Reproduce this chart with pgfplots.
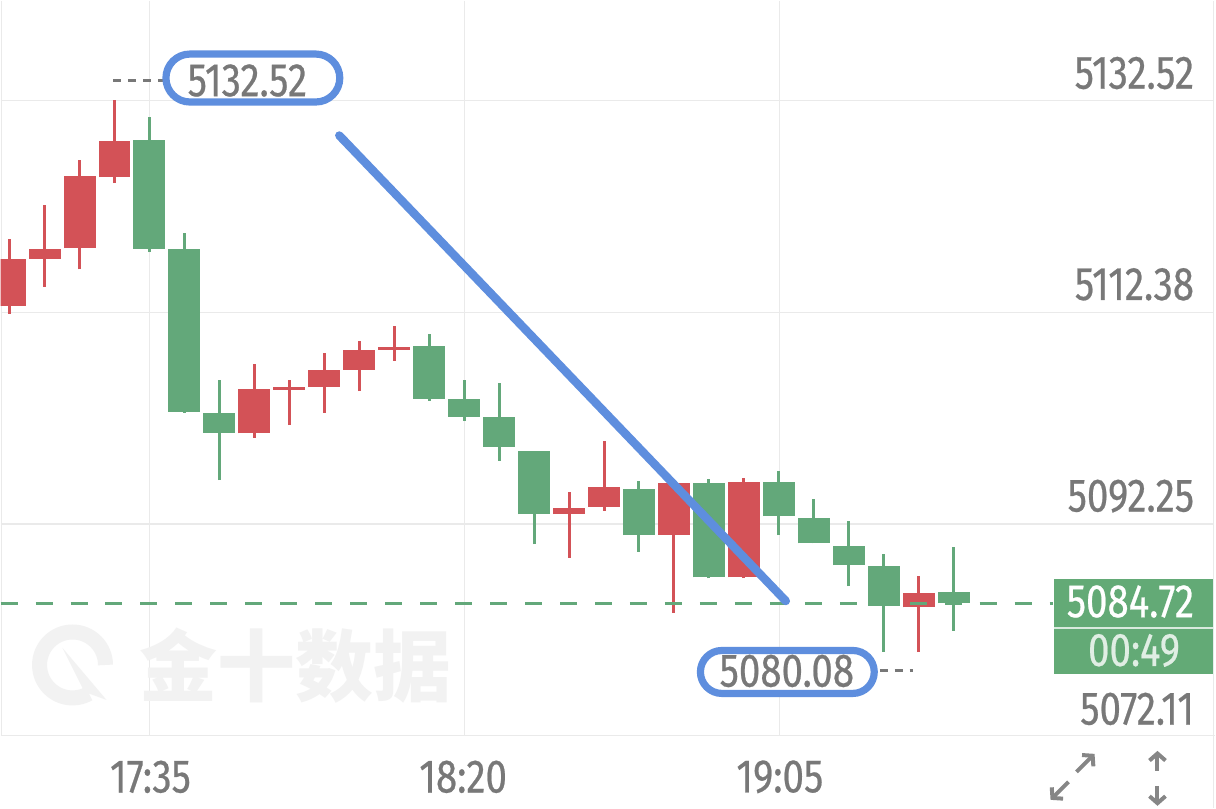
\documentclass[border=0pt]{standalone}
\usepackage{fontspec}
\setmainfont{Fira Sans}[FakeStretch=0.82, FakeBold=0.5]
\newfontfamily\cjk{Noto Sans CJK SC}
\usepackage{pgfplots}
\pgfplotsset{compat=1.18}
\usepackage{pgfplotstable}
\usetikzlibrary{arrows.meta}

\definecolor{cred}{RGB}{211,82,87}
\definecolor{cgreen}{RGB}{99,168,122}
\definecolor{cgrid}{RGB}{234,234,234}
\definecolor{ctext}{RGB}{120,120,120}
\definecolor{cblue}{RGB}{94,142,222}
\definecolor{cbox}{RGB}{99,170,118}
\definecolor{cwm}{RGB}{242,242,242}

% candles: index, open, high, low, close (5 min bars from 17:15)
\pgfplotstableread{
i  o       h       l       c
0  5112.98 5119.38 5112.26 5117.42
1  5117.48 5122.55 5114.79 5118.40
2  5118.49 5126.82 5116.47 5125.30
3  5125.23 5132.52 5124.66 5128.63
7  5100.86 5107.44 5100.44 5105.07
8  5105.04 5105.99 5101.65 5105.29
9  5105.29 5108.52 5102.85 5106.94
10 5106.94 5109.63 5104.88 5108.84
11 5108.84 5111.05 5107.76 5109.12
16 5093.19 5095.26 5089.04 5093.74
17 5093.89 5100.19 5093.51 5095.73
19 5091.23 5096.17 5083.82 5096.17
21 5087.18 5096.61 5087.10 5096.21
26 5084.33 5087.30 5080.08 5085.69
}\up
\pgfplotstableread{
i  o       h       l       c
4  5128.79 5130.93 5118.11 5118.40
5  5118.37 5119.95 5102.82 5102.91
6  5102.85 5105.92 5096.42 5100.95
12 5109.15 5110.36 5103.96 5104.18
13 5104.18 5105.92 5102.06 5102.44
14 5102.44 5105.67 5098.26 5099.59
15 5099.18 5099.18 5090.34 5093.19
18 5095.60 5096.33 5089.61 5091.20
20 5096.11 5096.49 5087.09 5087.18
22 5096.26 5097.28 5091.20 5093.00
23 5092.84 5094.59 5090.41 5090.41
24 5090.18 5092.50 5086.35 5088.35
25 5088.23 5089.37 5080.11 5084.46
27 5085.78 5090.09 5082.11 5084.72
}\down

\newcommand\lab{\fontsize{23.5pt}{23.5pt}\selectfont}
\pgfplotsset{
  px/.style={width=608pt, height=404pt, scale only axis, hide axis,
    xmin=0, xmax=1216, ymin=0, ymax=808, y dir=reverse, clip=false},
  wick/.style={forget plot, draw=none, mark=none,
    error bars/.cd, y dir=plus, y explicit, error mark=none,
    error bar style={draw=#1, line width=1.5pt}},
  body/.style={forget plot, draw=none, mark=none,
    error bars/.cd, y dir=plus, y explicit, error mark=none,
    error bar style={draw=#1, line width=16pt}},
}

\begin{document}
\begin{tikzpicture}
% background: grid and watermark
\begin{axis}[px]
  \fill[white] (axis cs:0,0) rectangle (axis cs:1216,808);
  \draw[cgrid, line width=0.6pt] (axis cs:0,100) -- (axis cs:1214,100);
  \draw[cgrid, line width=0.6pt] (axis cs:0,312) -- (axis cs:1214,312);
  \draw[cgrid, line width=0.6pt] (axis cs:0,524) -- (axis cs:1214,524);
  \draw[cgrid, line width=0.6pt] (axis cs:0,736) -- (axis cs:1216,736);
  \draw[cgrid, line width=0.6pt] (axis cs:1,0) -- (axis cs:1,736);
  \draw[cgrid, line width=0.6pt] (axis cs:149,0) -- (axis cs:149,736);
  \draw[cgrid, line width=0.6pt] (axis cs:464,0) -- (axis cs:464,736);
  \draw[cgrid, line width=0.6pt] (axis cs:780,0) -- (axis cs:780,736);
  \draw[cgrid, line width=0.6pt] (axis cs:1214,0) -- (axis cs:1214,808);
  % watermark
  \draw[cwm, line width=7.5pt] (axis cs:105,665) arc[start angle=0, end angle=300, radius=16.5pt];
  \fill[cwm] (axis cs:62,648) -- (axis cs:106,700) -- (axis cs:84,692) -- cycle;
  \node[cwm, inner sep=0, anchor=center] at (axis cs:295,666)
    {\cjk\bfseries\fontsize{39pt}{39pt}\selectfont 金十数据};
\end{axis}

% candles
\begin{axis}[width=608pt, height=404pt, scale only axis, hide axis,
  xmin=-0.25714, xmax=34.4857, ymin=5065.267, ymax=5142.019]
  \addplot[wick=cred] table[x=i, y=l, y error expr=\thisrow{h}-\thisrow{l}] {\up};
  \addplot[body=cred] table[x=i, y=o, y error expr=\thisrow{c}-\thisrow{o}] {\up};
  \addplot[wick=cgreen] table[x=i, y=l, y error expr=\thisrow{h}-\thisrow{l}] {\down};
  \addplot[body=cgreen] table[x=i, y=c, y error expr=\thisrow{o}-\thisrow{c}] {\down};
  % last price line
  \addplot[cgreen, line width=1.5pt, dash pattern=on 8.5pt off 9pt, forget plot]
    coordinates {(-0.25714,5084.72) (29.83,5084.72)};
\end{axis}

% annotations and labels
\begin{axis}[px]
  \draw[cblue, line width=4.2pt, line cap=round] (axis cs:339,135) -- (axis cs:786,601);
  % high marker
  \draw[ctext, line width=1.5pt, dash pattern=on 4pt off 3.5pt] (axis cs:113,80) -- (axis cs:177,80);
  \draw[cblue, line width=3.6pt, rounded corners=12pt, fill=white]
    (axis cs:165.5,53.5) rectangle (axis cs:339.5,101.5);
  \node[ctext, inner sep=0] at (axis cs:247,80) {\lab 5132.52};
  % low marker
  \draw[ctext, line width=1.5pt, dash pattern=on 4pt off 3.5pt] (axis cs:880,671) -- (axis cs:913,671);
  \draw[cblue, line width=3.6pt, rounded corners=10.75pt, fill=white]
    (axis cs:700.5,650.5) rectangle (axis cs:874.5,693.5);
  \node[ctext, inner sep=0] at (axis cs:787,671) {\lab 5080.08};
  % price scale
  \node[ctext, inner sep=0, anchor=east] at (axis cs:1195,72.5) {\lab 5132.52};
  \node[ctext, inner sep=0, anchor=east] at (axis cs:1195,284) {\lab 5112.38};
  \node[ctext, inner sep=0, anchor=east] at (axis cs:1195,496) {\lab 5092.25};
  \node[ctext, inner sep=0, anchor=east] at (axis cs:1195,709) {\lab 5072.11};
  % current price box
  \fill[cbox] (axis cs:1054,579) rectangle (axis cs:1214,674);
  \draw[white!75!cbox, line width=0.8pt] (axis cs:1054,628) -- (axis cs:1214,628);
  \node[white, inner sep=0, anchor=east] at (axis cs:1195,601.5) {\lab 5084.72};
  \node[white!80!cbox, inner sep=0] at (axis cs:1134.5,650.5) {\lab 00:49};
  % time axis
  \node[ctext, inner sep=0] at (axis cs:150,777) {\lab 17:35};
  \node[ctext, inner sep=0] at (axis cs:463,777) {\lab 18:20};
  \node[ctext, inner sep=0] at (axis cs:780,777) {\lab 19:05};
  % icons
  \draw[ctext!90, line width=2pt, -{Straight Barb[length=3.5pt, width=8pt]}] (axis cs:1077,772) -- (axis cs:1095,754);
  \draw[ctext!90, line width=2pt, -{Straight Barb[length=3.5pt, width=8pt]}] (axis cs:1069,782) -- (axis cs:1051,800);
  \draw[ctext!90, line width=2pt, -{Straight Barb[length=3.5pt, width=8pt]}] (axis cs:1158,771) -- (axis cs:1158,751);
  \draw[ctext!90, line width=2pt, -{Straight Barb[length=3.5pt, width=8pt]}] (axis cs:1158,786) -- (axis cs:1158,806);
\end{axis}
\end{tikzpicture}
\end{document}
